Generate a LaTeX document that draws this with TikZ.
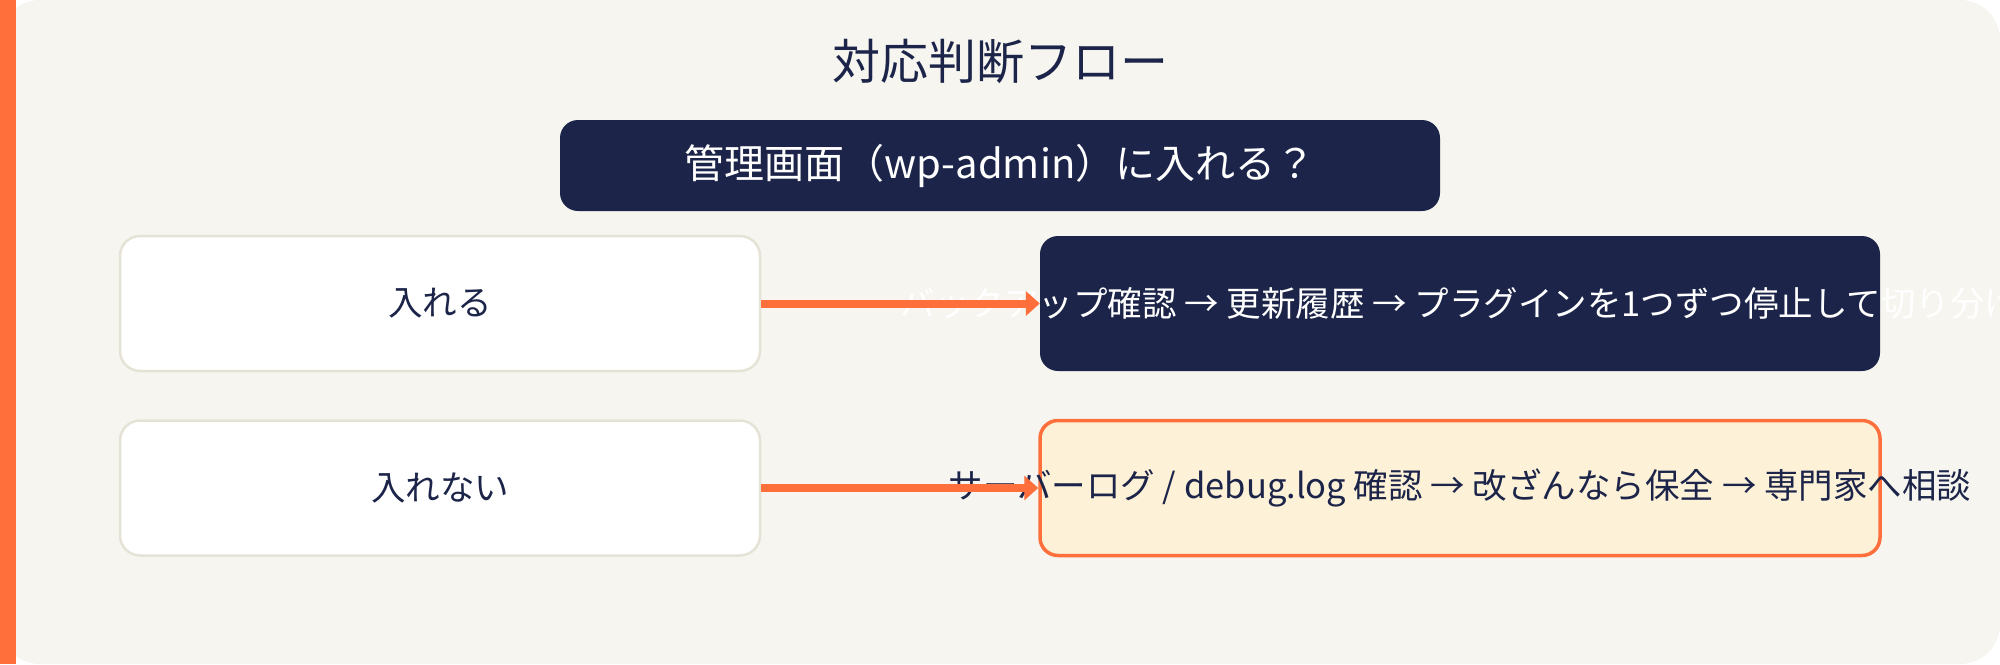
\documentclass[tikz,border=0pt]{standalone}
\usepackage{fontspec}
\setmainfont{Noto Sans CJK JP}
\usetikzlibrary{arrows.meta}
\definecolor{navy}{HTML}{1C2549}
\definecolor{bgc}{HTML}{F6F5F0}
\definecolor{accent}{HTML}{FF6F3C}
\definecolor{cream}{HTML}{FDF1D8}
\definecolor{lborder}{HTML}{E5E2D6}
\tikzset{
  choicebox/.style={draw=lborder, line width=2.5pt, fill=white, rounded corners=20pt, minimum width=640pt, minimum height=135pt, inner sep=0pt},
  darkbox/.style={fill=navy, rounded corners=18pt, minimum width=840pt, minimum height=135pt, inner sep=0pt},
  warnbox/.style={draw=accent, fill=cream, line width=3.5pt, rounded corners=18pt, minimum width=840pt, minimum height=135pt, inner sep=0pt},
  qbox/.style={fill=navy, rounded corners=18pt, minimum width=880pt, minimum height=91pt, inner sep=0pt, text=white, font=\fontsize{40}{44}\selectfont},
  lbl/.style={font=\fontsize{34.5}{38}\selectfont, inner sep=0pt},
  flow/.style={draw=accent, line width=8pt, -{Triangle[length=14pt,width=24pt]}}
}
\begin{document}
\begin{tikzpicture}[x=1pt,y=-1pt]
\useasboundingbox (0,0) rectangle (2000,664);
\fill[white] (0,0) rectangle (2000,664);
\fill[bgc, rounded corners=40pt] (0,0) rectangle (2000,664);
\fill[accent] (0,0) rectangle (16,664);
\node[text=navy, font=\fontsize{48}{54}\selectfont] (title) at (1000,61) {対応判断フロー};
\node[qbox] (q) at (1000,165.5) {管理画面（wp-admin）に入れる？};
\node[choicebox] (yes) at (440,303.5) {};
\node[lbl, text=navy] (yest) at (yes.center) {入れる};
\node[choicebox] (no) at (440,488) {};
\node[lbl, text=navy] (not) at (no.center) {入れない};
\node[darkbox] (r1) at (1460,303.5) {};
\node[warnbox] (r2) at (1460,488) {};
\node[lbl, text=white] (r1t) at (r1.center) {バックアップ確認 → 更新履歴 → プラグインを1つずつ停止して切り分け};
\node[lbl, text=navy] (r2t) at (r2.center) {サーバーログ / debug.log 確認 → 改ざんなら保全 → 専門家へ相談};
\draw[flow] (yes.east) -- (r1.west);
\draw[flow] (no.east) -- (r2.west);
\end{tikzpicture}
\end{document}
